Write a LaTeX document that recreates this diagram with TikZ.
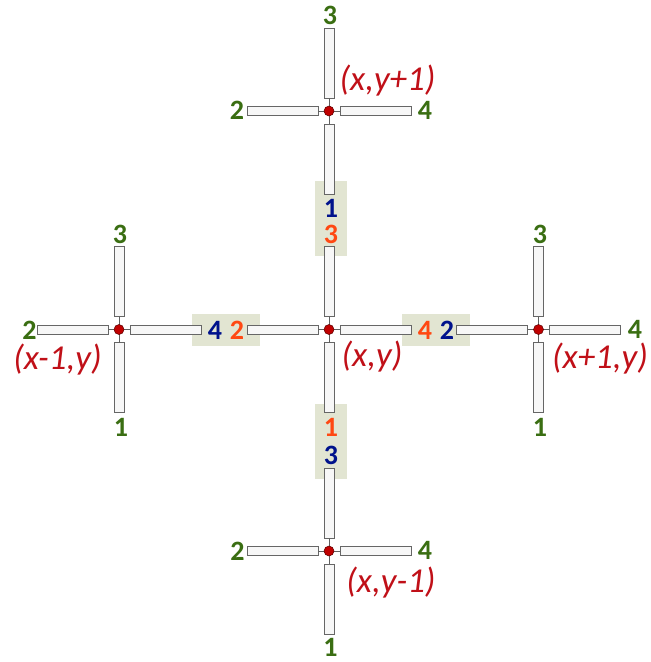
\documentclass[tikz,border=0pt]{standalone}
\usepackage{fontspec}
\setmainfont{Carlito}
\usepackage{tikz}
\definecolor{portGreen}{RGB}{58,110,18}
\definecolor{portBlue}{RGB}{0,18,140}
\definecolor{portOrange}{RGB}{255,72,18}
\definecolor{siteRed}{RGB}{192,0,0}
\definecolor{coordRed}{RGB}{192,16,24}
\definecolor{pairFill}{RGB}{226,229,210}
\newcommand{\portfont}{\bfseries\fontsize{28}{28}\selectfont}
\newcommand{\coordfont}{\itshape\fontsize{35}{35}\selectfont}

\begin{document}
\begin{tikzpicture}[x=1pt, y=-1pt,
  arm/.style={draw=gray!80!black, fill=gray!6, line width=0.6pt},
  link/.style={draw=gray!75!black, line width=0.7pt},
  site/.style={circle, draw=red!35!black, fill=siteRed, line width=0.5pt, inner sep=0pt, minimum size=10pt},
  pair/.style={fill=pairFill, draw=none},
  port/.style={font=\portfont, text=portGreen, inner sep=0pt},
  inport/.style={font=\portfont, text=portBlue, inner sep=0pt},
  outport/.style={font=\portfont, text=portOrange, inner sep=0pt},
  coord/.style={font=\coordfont, text=coordRed, inner sep=0pt}]
\useasboundingbox (0,0) rectangle (651,662);
% shared port pairs
\fill[pair] (315,181) rectangle (347,256);
\fill[pair] (315,404) rectangle (347,479);
\fill[pair] (192,314) rectangle (260,346);
\fill[pair] (402,314) rectangle (470,346);
% sites
\coordinate (C) at (329,329.5);
\coordinate (T) at (329,111);
\coordinate (B) at (329,551);
\coordinate (L) at (119,329.5);
\coordinate (R) at (538.5,329.5);
\foreach \s in {C,T,B,L,R} {
  \draw[arm] ([shift={(11,-4.5)}]\s) rectangle ([shift={(82,4.5)}]\s);
  \draw[arm] ([shift={(-11,-4.5)}]\s) rectangle ([shift={(-82,4.5)}]\s);
  \draw[arm] ([shift={(-5,-13)}]\s) rectangle ([shift={(5,-83)}]\s);
  \draw[arm] ([shift={(-5,13)}]\s) rectangle ([shift={(5,83)}]\s);
  \draw[link] ([xshift=-11pt]\s) -- ([xshift=11pt]\s);
  \draw[link] ([yshift=13pt]\s) -- ([yshift=-13pt]\s);
  \node[site] (\s dot) at (\s) {};
}
% port numbers
\node[port] (T3) at (330,15.5) {3};
\node[port] (T2) at (237,110) {2};
\node[port] (T4) at (425,110) {4};
\node[port] (L3) at (120,234) {3};
\node[port] (L2) at (29.5,330) {2};
\node[port] (L1) at (121,427) {1};
\node[port] (R3) at (540,234) {3};
\node[port] (R4) at (635,329) {4};
\node[port] (R1) at (540,427) {1};
\node[port] (B2) at (237.5,551) {2};
\node[port] (B4) at (425,550) {4};
\node[port] (B1) at (330.5,647) {1};
\node[inport] (TC1) at (331,208) {1};
\node[outport] (TC3) at (331,234) {3};
\node[outport] (BC1) at (331,427) {1};
\node[inport] (BC3) at (331,455) {3};
\node[inport] (LC4) at (215,330) {4};
\node[outport] (LC2) at (237,330) {2};
\node[outport] (RC4) at (425,330) {4};
\node[inport] (RC2) at (447,330) {2};
% site coordinates
\node[coord] (Tname) at (387.5,81) {(x,y+1)};
\node[coord] (Cname) at (372,357) {(x,y)};
\node[coord] (Lname) at (57.5,360) {(x-1,y)};
\node[coord] (Rname) at (600,358.5) {(x+1,y)};
\node[coord] (Bname) at (391,583) {(x,y-1)};
\end{tikzpicture}
\end{document}
